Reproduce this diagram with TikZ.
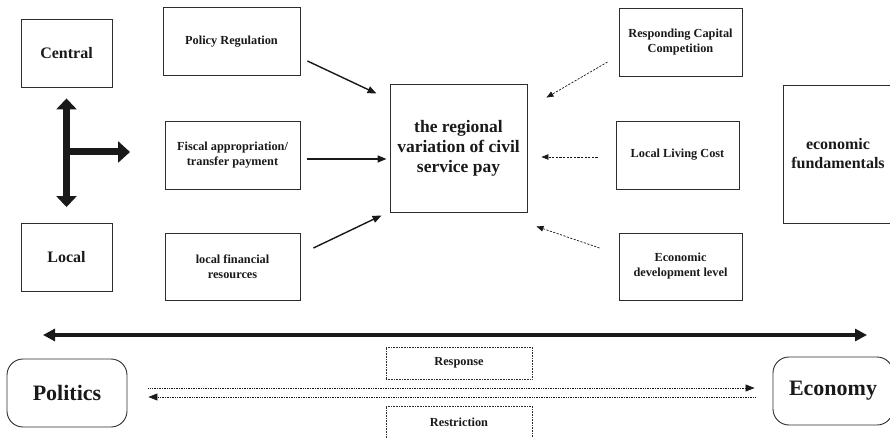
\documentclass[tikz,border=0pt]{standalone}
\usepackage{fontspec}
\setmainfont{Liberation Serif}
\usepackage{tikz}
\usetikzlibrary{arrows.meta,positioning,calc}
\definecolor{boxline}{RGB}{45,45,45}
\definecolor{inkgray}{RGB}{25,25,25}

\begin{document}
\begin{tikzpicture}[x=1pt,y=-1pt,text=inkgray,
  factorbox/.style={draw=boxline,line width=0.9pt,align=center,inner sep=1pt,
    font=\fontsize{12.3}{15}\selectfont\bfseries,minimum width=135pt,minimum height=68pt},
  levelbox/.style={draw=boxline,line width=0.9pt,font=\fontsize{16}{19}\selectfont\bfseries,
    minimum width=91pt,minimum height=68pt},
  sidebox/.style={draw=boxline,line width=0.9pt,rounded corners=16pt,
    font=\fontsize{22}{26}\selectfont\bfseries,minimum width=120pt,minimum height=68pt},
  notebox/.style={draw=boxline,line width=0.6pt,densely dotted,
    font=\fontsize{12.3}{15}\selectfont\bfseries,minimum width=146pt,minimum height=32pt},
  solidarrow/.style={-{Triangle[length=9pt,width=7pt]},line width=1.4pt,draw=inkgray},
  dasharrow/.style={-{Triangle[length=7pt,width=5.5pt]},line width=0.7pt,draw=inkgray,
    dash pattern=on 2.2pt off 1.4pt},
  dotarrow/.style={-{Triangle[length=9pt,width=7pt]},line width=0.7pt,draw=inkgray,densely dotted},
  thickarrow/.style={line width=7pt,draw=inkgray},
]
\useasboundingbox (0,0) rectangle (890,438);

% government levels
\node[levelbox] (central) at (66.5,53) {Central};
\node[levelbox] (local) at (66.5,257.5) {Local};

% political factors
\node[factorbox,minimum width=137pt] (policy) at (231.5,41.5) {Policy Regulation};
\node[factorbox] (fiscal) at (232.5,155) {Fiscal appropriation/\\transfer payment};
\node[factorbox,minimum height=67pt] (localfin) at (232.5,266.5) {local financial\\resources};

% outcome
\node[draw=boxline,line width=0.9pt,align=center,minimum width=137pt,minimum height=128pt,
  font=\fontsize{17.5}{20}\selectfont\bfseries] (pay) at (458.5,148)
  {the regional\\variation of civil\\service pay};

% economic factors
\node[factorbox,minimum width=123pt] (capital) at (680.5,42) {Responding Capital\\Competition};
\node[factorbox,minimum width=123pt] (living) at (677.5,155) {Local Living Cost};
\node[factorbox,minimum width=123pt,minimum height=67pt] (develop) at (680.5,266.5) {Economic\\development level};
\node[draw=boxline,line width=0.9pt,align=center,minimum width=110pt,minimum height=138pt,
  font=\fontsize{16}{19}\selectfont\bfseries] (fundament) at (838,154) {economic\\fundamentals};

% central-local link
\coordinate (tee) at (66.5,152);
\coordinate (teeend) at (130,152);
\draw[thickarrow,{Triangle[length=11pt,width=20pt]}-{Triangle[length=11pt,width=20pt]},
  shorten <=11pt,shorten >=16pt] (central) -- (local);
\draw[thickarrow,-{Triangle[length=12pt,width=21pt]}] (tee) -- (teeend);

% arrows into the outcome
\draw[solidarrow] ([xshift=7pt,yshift=-19.5pt]policy.east) -- ([xshift=-13pt,yshift=-10pt]pay.north west);
\draw[solidarrow] ([xshift=7pt,yshift=-4pt]fiscal.east) -- ([xshift=-3pt,yshift=-11pt]pay.west);
\draw[solidarrow] ([xshift=13pt,yshift=18.5pt]localfin.east) -- ([xshift=-8pt,yshift=-3pt]pay.south west);
\draw[dasharrow] ([xshift=-11pt,yshift=-20pt]capital.west) -- ([xshift=19pt,yshift=-14pt]pay.north east);
\draw[dasharrow] ([xshift=-18pt,yshift=-2pt]living.west) -- ([xshift=14pt,yshift=-9pt]pay.east);
\draw[dasharrow] ([xshift=-19pt,yshift=18.5pt]develop.west) -- ([xshift=9pt,yshift=-14pt]pay.south east);

% politics and economy
\node[sidebox] (politics) at (67,393) {Politics};
\node[sidebox] (economy) at (833,391) {Economy};
\coordinate (axisl) at (43,335);
\coordinate (axisr) at (867,335);
\draw[line width=3.5pt,draw=inkgray,{Triangle[length=12pt,width=12pt]}-{Triangle[length=12pt,width=12pt]}]
  (axisl) -- (axisr);
\node[notebox] (response) at (459,363) {Response};
\node[notebox] (restrict) at (459,422) {Restriction};
\draw[dotarrow] ([xshift=21pt,yshift=5pt]politics.east) -- ([xshift=-18pt,yshift=3pt]economy.west);
\draw[dotarrow] ([xshift=-17pt,yshift=-6pt]economy.west) -- ([xshift=21pt,yshift=-4pt]politics.east);
\end{tikzpicture}
\end{document}
